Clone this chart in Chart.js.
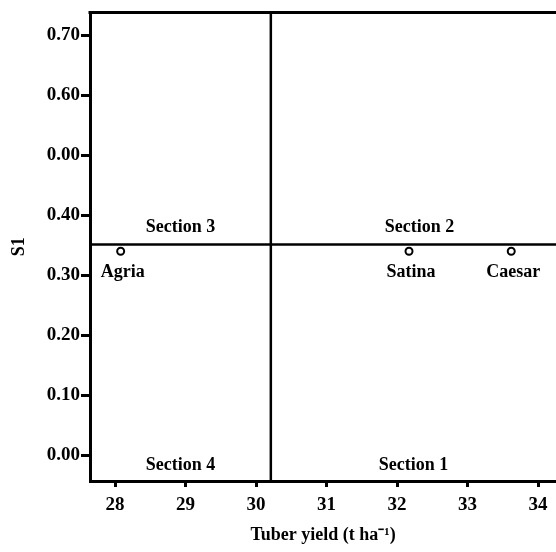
<!DOCTYPE html>
<html>
<head>
<meta charset="utf-8">
<script src="https://cdn.jsdelivr.net/npm/chart.js@4"></script>
<style>
  html, body { margin: 0; padding: 0; background: #fff; }
  #wrap { width: 556px; height: 552px; }
</style>
</head>
<body>
<div id="wrap"><canvas id="chart"></canvas></div>
<script>
// cultivars and their values
const cultivars = ['Agria', 'Satina', 'Caesar'];
const tuberYield = [28.08, 32.17, 33.62];
const s1Values = [0.34, 0.34, 0.34];

// dividing lines (means)
const meanYield = 30.21;
const meanS1 = 0.351;

// axis ticks (the 0.50 tick is printed "0.00" in the original)
const xTicks = [28, 29, 30, 31, 32, 33, 34];
const yTicks = [0, 0.1, 0.2, 0.3, 0.4, 0.5, 0.6, 0.7];
const yTickLabels = ['0.00', '0.10', '0.20', '0.30', '0.40', '0.00', '0.60', '0.70'];

// quadrant names: right-bottom, right-top, left-top, left-bottom
const sectionNames = ['Section 1', 'Section 2', 'Section 3', 'Section 4'];

const xMin = 27.645, xMax = 34.255;
const yMin = -0.043, yMax = 0.738;

const FONT = "'Liberation Serif', 'Times New Roman', serif";

const labelPlugin = {
    id: 'labels',
    afterDraw(chart) {
        const ctx = chart.ctx;
        const xs = chart.scales.x, ys = chart.scales.y;
        const area = chart.chartArea;
        ctx.save();

        // top frame line
        ctx.strokeStyle = '#000';
        ctx.lineWidth = 3;
        ctx.beginPath();
        ctx.moveTo(area.left - 1.5, area.top);
        ctx.lineTo(area.right, area.top);
        ctx.stroke();

        ctx.fillStyle = '#000';
        ctx.font = 'bold 18px ' + FONT;
        ctx.textAlign = 'center';
        ctx.textBaseline = 'middle';

        // section names, centred in each quadrant
        const leftMid = (xs.getPixelForValue(xMin) + xs.getPixelForValue(meanYield)) / 2;
        const rightMid = (xs.getPixelForValue(meanYield) + xs.getPixelForValue(xMax)) / 2;
        const midY = ys.getPixelForValue(meanS1) - 17;
        const lowY = area.bottom - 16;
        ctx.fillText(sectionNames[0], rightMid, lowY);
        ctx.fillText(sectionNames[1], rightMid + 6, midY);
        ctx.fillText(sectionNames[2], leftMid, midY);
        ctx.fillText(sectionNames[3], leftMid, lowY);

        // cultivar names under the points
        const meta = chart.getDatasetMeta(0);
        meta.data.forEach((pt, i) => {
            ctx.fillText(cultivars[i], pt.x + 2, pt.y + 21);
        });
        ctx.restore();
    }
};

const ctx = document.getElementById('chart').getContext('2d');
new Chart(ctx, {
    type: 'scatter',
    data: {
        datasets: [{
            label: 'Cultivars',
            data: cultivars.map((c, i) => ({ x: tuberYield[i], y: s1Values[i] })),
            pointRadius: 3.5,
            pointBorderWidth: 2,
            pointBorderColor: '#000',
            pointBackgroundColor: '#fff'
        }, {
            label: 'mean S1',
            type: 'line',
            data: [{ x: xMin, y: meanS1 }, { x: xMax, y: meanS1 }],
            borderColor: '#000',
            borderWidth: 2.5,
            pointRadius: 0
        }, {
            label: 'mean yield',
            type: 'line',
            data: [{ x: meanYield, y: yMin }, { x: meanYield, y: yMax }],
            borderColor: '#000',
            borderWidth: 2.5,
            pointRadius: 0
        }]
    },
    options: {
        responsive: true,
        maintainAspectRatio: false,
        animation: false,
        layout: { autoPadding: false, padding: { top: 8, right: 0, left: 0, bottom: 0 } },
        plugins: {
            legend: { display: false },
            tooltip: { enabled: false }
        },
        scales: {
            x: {
                type: 'linear',
                min: xMin,
                max: xMax,
                afterBuildTicks: scale => { scale.ticks = xTicks.map(v => ({ value: v })); },
                afterFit: scale => {
                    scale.height = 71;
                    scale.paddingLeft = 0;
                    scale.paddingRight = 0;
                },
                ticks: {
                    color: '#000',
                    padding: 7,
                    autoSkip: false,
                    maxRotation: 0,
                    font: { family: FONT, size: 19, weight: 'bold' },
                    callback: v => String(v)
                },
                grid: { drawOnChartArea: false, drawTicks: true, tickLength: 6, color: '#000', lineWidth: 3 },
                border: { display: true, color: '#000', width: 3 },
                title: {
                    display: true,
                    text: 'Tuber yield (t ha\u207B\u00B9)',
                    color: '#000',
                    padding: { top: 0, bottom: 6 },
                    font: { family: FONT, size: 18, weight: 'bold' }
                }
            },
            y: {
                type: 'linear',
                min: yMin,
                max: yMax,
                afterBuildTicks: scale => { scale.ticks = yTicks.map(v => ({ value: v })); },
                afterFit: scale => { scale.width = 90; },
                ticks: {
                    color: '#000',
                    padding: 1,
                    autoSkip: false,
                    font: { family: FONT, size: 19, weight: 'bold' },
                    callback: (v, i) => yTickLabels[yTicks.indexOf(Math.round(v * 10) / 10)]
                },
                grid: { drawOnChartArea: false, drawTicks: true, tickLength: 9, color: '#000', lineWidth: 3 },
                border: { display: true, color: '#000', width: 3 },
                title: {
                    display: true,
                    text: 'S1',
                    color: '#000',
                    padding: { top: 9, bottom: 0 },
                    font: { family: FONT, size: 18, weight: 'bold' }
                }
            }
        }
    },
    plugins: [labelPlugin]
});
</script>
</body>
</html>
